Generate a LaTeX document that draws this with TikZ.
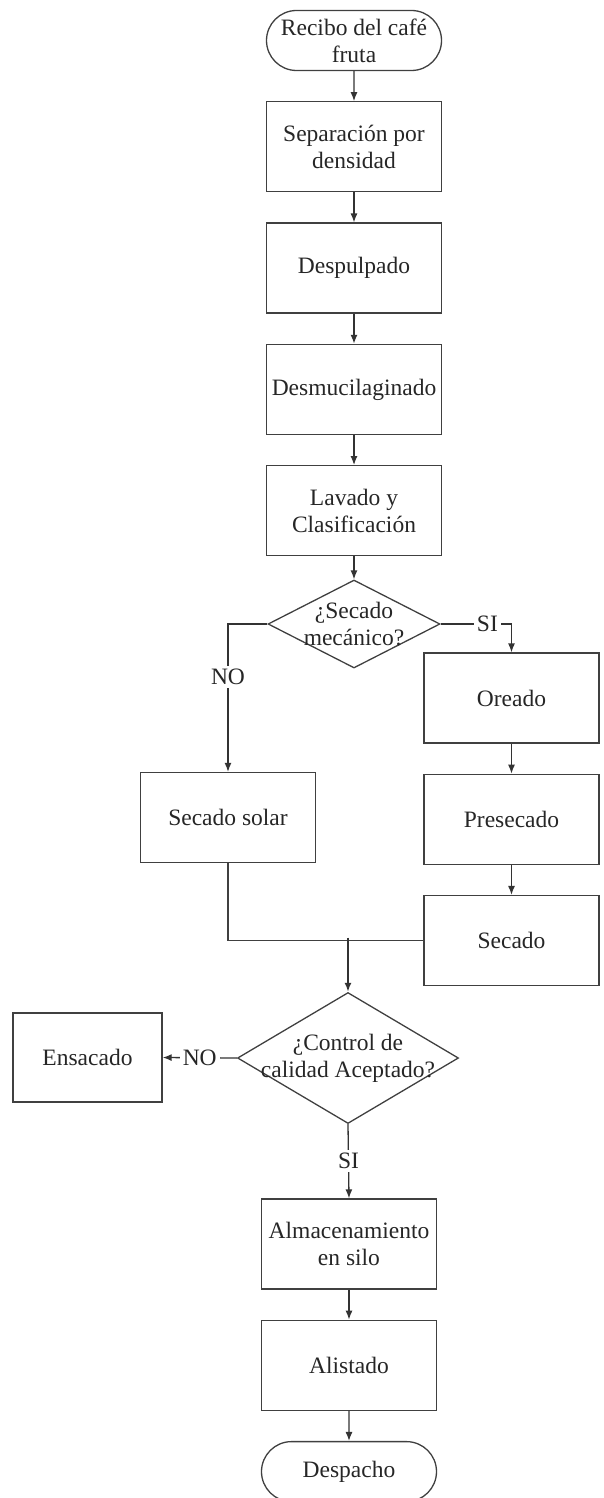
\documentclass[tikz,border=0pt]{standalone}
\usepackage{fontspec}
\setmainfont{Liberation Serif}
\usetikzlibrary{shapes.geometric,shapes.misc,arrows.meta,positioning}

\tikzset{
  proceso/.style={draw=black!75, line width=1.3pt, rectangle, minimum width=175pt, minimum height=90pt, align=center, inner sep=2pt},
  terminal/.style={draw=black!75, line width=1.3pt, rounded rectangle, minimum width=177pt, minimum height=60pt, align=center, inner sep=1pt},
  decision/.style={draw=black!75, line width=1.3pt, diamond, inner sep=0pt},
  flecha/.style={draw=black!80, line width=1.3pt, -{Latex[length=9pt,width=7pt]}},
  linea/.style={draw=black!75, line width=1.3pt},
  etiqueta/.style={fill=white, inner sep=3pt}
}

\begin{document}
\begin{tikzpicture}[x=1pt, y=1pt, node distance=30pt, font=\fontsize{23.5}{27}\selectfont, text=black!85]
\useasboundingbox (0,0) rectangle (603,-1498);

% columna principal
\node[terminal] (recibo) at (354,-40.5) {Recibo del café\\fruta};
\node[proceso, below=of recibo] (separacion) {Separación por\\densidad};
\node[proceso, below=of separacion] (despulpado) {Despulpado};
\node[proceso, below=of despulpado] (desmucilaginado) {Desmucilaginado};
\node[proceso, below=of desmucilaginado] (lavado) {Lavado y\\Clasificación};
\node[decision, minimum width=172pt, minimum height=88pt, label={[align=center]center:{¿Secado\\mecánico?}}] (decision1) at (354,-624) {};

% ramas del secado
\node[proceso] (oreado) at (511.5,-698) {Oreado};
\node[proceso, below=of oreado] (presecado) {Presecado};
\node[proceso, below=of presecado] (secado) {Secado};
\node[proceso] (solar) at (228,-817.5) {Secado solar};
\coordinate (union) at (348,-937.5);

% control y salida
\node[decision, minimum width=221pt, minimum height=131pt, label={[align=center]center:{¿Control de\\calidad Aceptado?}}] (decision2) at (348,-1058) {};
\node[proceso, minimum width=149pt, minimum height=89pt] (ensacado) at (87.5,-1057.5) {Ensacado};
\node[proceso] (almacenamiento) at (349,-1244) {Almacenamiento\\en silo};
\node[proceso, below=of almacenamiento] (alistado) {Alistado};
\node[terminal, below=of alistado] (despacho) {Despacho};

\draw[flecha] (recibo) -- (separacion);
\draw[flecha] (separacion) -- (despulpado);
\draw[flecha] (despulpado) -- (desmucilaginado);
\draw[flecha] (desmucilaginado) -- (lavado);
\draw[flecha] (lavado) -- (decision1);

\draw[flecha] (decision1.east) -| node[etiqueta, pos=0.33] {SI} (oreado.north);
\draw[flecha] (decision1.west) -| node[etiqueta, pos=0.68] {NO} (solar.north);
\draw[flecha] (oreado) -- (presecado);
\draw[flecha] (presecado) -- (secado);
\draw[linea] (solar.south) |- (secado.west);
\draw[flecha, line width=1.8pt] (union) -- (decision2.north);

\draw[flecha] (decision2.west) -- node[etiqueta] {NO} (ensacado.east);
\draw[flecha] (decision2.south) -- node[etiqueta] {SI} (almacenamiento.north);
\draw[flecha] (almacenamiento) -- (alistado);
\draw[flecha] (alistado) -- (despacho);
\end{tikzpicture}
\end{document}
